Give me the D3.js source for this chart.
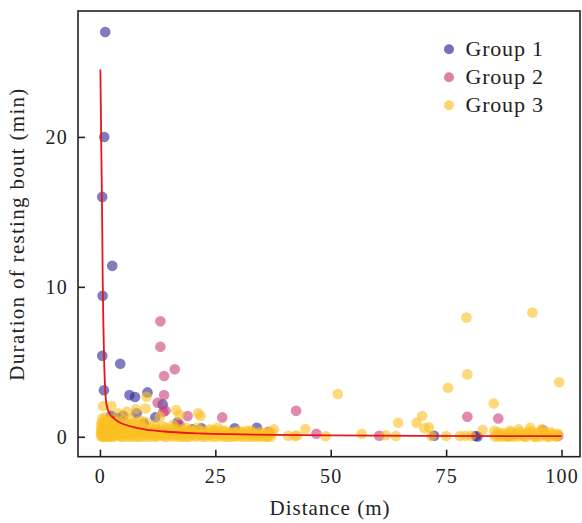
<!DOCTYPE html>
<html>
<head>
<meta charset="utf-8">
<script src="https://cdn.jsdelivr.net/npm/d3@7"></script>
<style>
  body { margin: 0; background: #fff; }
  text { font-family: "Liberation Serif", "Times New Roman", serif; fill: #222; }
</style>
</head>
<body>
<div id="chart"></div>
<script>
// values: [distance (m), duration (min)]
const group1 = [
  [1.15, 27.0], [0.93, 20.0], [0.5, 16.0], [2.66, 11.4], [0.58, 9.4], [0.5, 5.4],
  [4.4, 4.87], [0.87, 3.1], [6.4, 2.78], [7.6, 2.65], [10.3, 2.96], [13.6, 2.16],
  [7.95, 1.56], [16.8, 0.95], [2.4, 1.4], [3.5, 1.25], [5.0, 1.4], [9.5, 0.9],
  [12.0, 1.3], [20.0, 0.5], [22.0, 0.56], [29.2, 0.56], [34.0, 0.6], [72.4, 0.07],
  [81.4, 0.05], [81.8, 0.02]
];
const group2 = [
  [13.1, 7.7], [13.1, 6.0], [16.2, 4.5], [13.9, 4.05], [13.9, 2.78], [12.5, 2.27],
  [14.2, 1.73], [13.7, 1.67], [19.0, 1.38], [17.3, 0.78], [26.5, 1.29], [36.5, 0.33],
  [42.5, 1.73], [46.9, 0.2], [60.5, 0.07], [79.6, 1.33], [86.3, 1.22], [88.4, 0.07],
  [96.0, 0.45], [99.3, 0.07]
];
const group3 = [
  // outliers
  [79.4, 7.96], [93.7, 8.29], [79.6, 4.16], [75.4, 3.27], [99.5, 3.63], [85.3, 2.22],
  [51.5, 2.85], [64.6, 0.93], [68.6, 0.93], [69.8, 1.38], [70.3, 0.56], [71.3, 0.63],
  [82.9, 0.45], [85.4, 0.38], [44.5, 0.51], [40.8, 0.07], [42.2, 0.05], [42.7, 0.08],
  [48.9, 0.03], [56.7, 0.18], [61.9, 0.1], [64.1, 0.05], [71.8, 0.05], [75.0, 0.05],
  [78.0, 0.05], [79.2, 0.07], [80.4, 0.06], [37.7, 0.49], [21.8, 1.38],
  [0.7, 2.05], [2.5, 2.05], [5.8, 1.67], [7.8, 1.83], [9.9, 1.89], [10.1, 2.67],
  [16.5, 1.78], [17.2, 1.45], [21.3, 1.56], [4.0, 1.56], [8.7, 1.1], [13.0, 1.33],
  // dense band near the origin
  [0.2, 0.1], [0.3, 0.5], [0.3, 0.9], [0.4, 0.2], [0.5, 1.2], [0.6, 0.0], [0.7, 0.6],
  [0.8, 0.3], [0.9, 1.0], [1.0, 0.1], [1.1, 0.7], [1.2, 1.3], [1.3, 0.4], [1.4, 0.0],
  [1.5, 0.9], [1.7, 0.2], [1.8, 0.6], [1.9, 1.1], [2.0, 0.0], [2.1, 0.4], [2.3, 0.8],
  [2.5, 0.1], [2.6, 1.2], [2.8, 0.5], [3.0, 0.0], [3.1, 0.9], [3.3, 0.3], [3.6, 0.6],
  [3.8, 0.1], [4.0, 1.0], [4.2, 0.4], [4.5, 0.0], [4.7, 0.7], [5.0, 0.2], [5.2, 1.1],
  [5.5, 0.5], [5.8, 0.0], [6.0, 0.8], [6.3, 0.3], [6.6, 1.2], [6.9, 0.1], [7.2, 0.6],
  [7.5, 0.0], [7.8, 0.9], [8.1, 0.3], [8.4, 0.5], [8.8, 0.0], [9.1, 0.7], [9.5, 0.2],
  [9.9, 1.0], [10.3, 0.4], [10.7, 0.0], [11.0, 0.6], [11.5, 0.2], [11.9, 0.8],
  [12.3, 0.0], [12.8, 0.4], [13.2, 0.1], [13.6, 0.7], [14.1, 0.3], [14.5, 0.0],
  [15.0, 0.5], [15.4, 0.1], [15.9, 0.8], [16.3, 0.3], [16.8, 0.0], [17.2, 0.5],
  [17.7, 0.2], [18.1, 0.0], [18.6, 0.6], [19.0, 0.3], [19.5, 0.0], [20.0, 0.4],
  [20.5, 0.1], [21.1, 0.6], [21.6, 0.2], [22.2, 0.0], [22.7, 0.4], [23.3, 0.1],
  [23.8, 0.5], [24.4, 0.0], [25.0, 0.3], [25.5, 0.6], [26.1, 0.1], [26.7, 0.0],
  [27.2, 0.4], [27.8, 0.2], [28.4, 0.0], [29.0, 0.3], [29.5, 0.1], [30.1, 0.4],
  [30.7, 0.0], [31.3, 0.2], [31.8, 0.4], [32.4, 0.0], [33.0, 0.3], [33.6, 0.1],
  [34.1, 0.0], [34.7, 0.3], [35.3, 0.1], [35.9, 0.0], [36.4, 0.2], [37.0, 0.0], [37.2, 0.3],
  [0.25, 0.3], [0.35, 0.7], [0.45, 0.0], [0.55, 0.4], [0.65, 0.9], [0.75, 0.15],
  [0.85, 0.55], [0.95, 0.25], [1.05, 0.85], [1.15, 0.0], [1.25, 0.5], [1.35, 1.0],
  [1.45, 0.2], [1.6, 0.65], [1.75, 0.0], [1.85, 0.35], [2.0, 0.9], [2.2, 0.15],
  [2.4, 0.55], [2.7, 0.0], [2.9, 0.75], [3.2, 0.15], [3.5, 0.45], [3.7, 0.9],
  [4.1, 0.2], [4.4, 0.6], [4.8, 0.0], [5.1, 0.4], [5.4, 0.85], [5.9, 0.3],
  [6.2, 0.55], [6.5, 0.0], [6.8, 0.4], [7.1, 0.9], [7.4, 0.25], [7.9, 0.45],
  [8.3, 0.0], [8.6, 0.75], [9.0, 0.3], [9.4, 0.55], [9.8, 0.0],
  [10.5, 0.2], [11.2, 0.35], [11.7, 0.0], [12.1, 0.5], [12.6, 0.15], [13.4, 0.45],
  [13.9, 0.0], [14.3, 0.6], [14.8, 0.2], [15.2, 0.35], [15.7, 0.0], [16.1, 0.55],
  [16.6, 0.15], [17.0, 0.3], [17.5, 0.0], [17.9, 0.4], [18.4, 0.15], [18.8, 0.0],
  [19.3, 0.45], [19.8, 0.15], [20.3, 0.3], [20.8, 0.0], [21.4, 0.4], [21.9, 0.1],
  [22.5, 0.25], [23.0, 0.0], [23.6, 0.3], [24.1, 0.15], [24.7, 0.45], [25.3, 0.0],
  [25.8, 0.2], [26.4, 0.4], [27.0, 0.15], [27.5, 0.0], [28.1, 0.3], [28.7, 0.15],
  [29.3, 0.0], [29.8, 0.25], [30.4, 0.1], [31.0, 0.3], [31.6, 0.0], [32.1, 0.2],
  [32.7, 0.4], [33.3, 0.0], [33.9, 0.2], [34.4, 0.1], [35.0, 0.0], [35.6, 0.25],
  [36.2, 0.0], [36.7, 0.1],
  // dense band at the far end
  [85.6, 0.0], [86.2, 0.3], [86.9, 0.1], [87.5, 0.0], [88.1, 0.2], [88.8, 0.4],
  [89.4, 0.0], [90.0, 0.2], [90.7, 0.5], [91.3, 0.1], [91.9, 0.0], [92.6, 0.3],
  [93.2, 0.6], [93.8, 0.1], [94.5, 0.0], [95.1, 0.3], [95.7, 0.5], [96.4, 0.1],
  [97.0, 0.0], [97.6, 0.3], [98.2, 0.1], [98.8, 0.0], [99.2, 0.2],
  [85.9, 0.15], [86.6, 0.0], [87.2, 0.25], [87.8, 0.1], [88.5, 0.0], [89.1, 0.3],
  [89.7, 0.1], [90.4, 0.0], [91.0, 0.3], [91.6, 0.15], [92.3, 0.0], [92.9, 0.2],
  [93.5, 0.35], [94.1, 0.0], [94.8, 0.2], [95.4, 0.0], [96.1, 0.3], [96.7, 0.1],
  [97.3, 0.0], [97.9, 0.2], [98.5, 0.05], [99.0, 0.1]
];
// fitted curve
const fitLine = [
  [0.1, 24.5], [0.35, 18], [0.5, 14], [0.6, 10.5], [0.75, 7.5], [0.9, 5.2], [1.1, 3.4],
  [1.4, 2.2], [2, 1.6], [3, 1.25], [4, 1.0], [5.5, 0.8], [7.5, 0.62], [10, 0.48],
  [14, 0.35], [20, 0.24], [28, 0.17], [38, 0.12], [50, 0.09], [70, 0.06], [100, 0.04]
];
const groupNames = ["Group 1", "Group 2", "Group 3"];
const groupColors = ["#2a2496", "#c93c78", "#fbbf22"];
const xTicks = [0, 25, 50, 75, 100];
const yTicks = [0, 10, 20];

const width = 582, height = 523;
const plotLeft = 78, plotRight = 580, plotTop = 11, plotBottom = 456.7;

const svg = d3
  .select("#chart")
  .append("svg")
  .attr("width", width)
  .attr("height", height);

const x = d3.scaleLinear().domain([-4.75, 104]).range([plotLeft, plotRight]);
const y = d3.scaleLinear().domain([-1.33, 28.4]).range([plotBottom, plotTop]);

// axes, ticks pointing inward
const xAxis = svg
  .append("g")
  .attr("transform", `translate(0,${plotBottom})`)
  .call(d3.axisBottom(x).tickValues(xTicks).tickSize(-7).tickPadding(12.5));
const yAxis = svg
  .append("g")
  .attr("transform", `translate(${plotLeft},0)`)
  .call(d3.axisLeft(y).tickValues(yTicks).tickSize(-7).tickPadding(10));

[xAxis, yAxis].forEach((a) => {
  a.select(".domain").remove();
  a.selectAll("line").attr("stroke", "#222").attr("stroke-width", 1.6);
  a.selectAll("text")
    .style("font-family", "Liberation Serif, serif")
    .style("font-size", "20px")
    .style("letter-spacing", "1.2px")
    .attr("fill", "#222");
});

svg
  .append("rect")
  .attr("x", plotLeft)
  .attr("y", plotTop)
  .attr("width", plotRight - plotLeft)
  .attr("height", plotBottom - plotTop)
  .attr("fill", "none")
  .attr("stroke", "#222")
  .attr("stroke-width", 1.6);

// points
const groups = [group1, group2, group3];
groups.forEach((data, i) => {
  svg
    .append("g")
    .selectAll("circle")
    .data(data)
    .enter()
    .append("circle")
    .attr("cx", (d) => x(d[0]))
    .attr("cy", (d) => y(d[1]))
    .attr("r", 5.3)
    .attr("fill", groupColors[i])
    .attr("fill-opacity", 0.6);
});

// fitted line
const line = d3
  .line()
  .x((d) => x(d[0]))
  .y((d) => y(d[1]))
  .curve(d3.curveMonotoneX);

svg
  .append("path")
  .datum(fitLine)
  .attr("d", line)
  .attr("fill", "none")
  .attr("stroke", "#e8141e")
  .attr("stroke-width", 1.8);

// axis titles
svg
  .append("text")
  .attr("x", 330)
  .attr("y", 515)
  .attr("text-anchor", "middle")
  .style("font-size", "21px")
  .style("letter-spacing", "1px")
  .text("Distance (m)");

svg
  .append("text")
  .attr("transform", "translate(24,234) rotate(-90)")
  .attr("text-anchor", "middle")
  .style("font-size", "21px")
  .style("letter-spacing", "1.3px")
  .text("Duration of resting bout (min)");

// legend
const legend = svg
  .append("g")
  .selectAll("g")
  .data(groupNames)
  .enter()
  .append("g")
  .attr("transform", (d, i) => `translate(449,${49.3 + i * 28})`);

legend
  .append("circle")
  .attr("r", 5)
  .attr("fill", (d, i) => groupColors[i])
  .attr("fill-opacity", 0.65);

legend
  .append("text")
  .attr("x", 16.5)
  .attr("y", 7)
  .style("font-size", "22px")
  .style("letter-spacing", "0.8px")
  .text((d) => d);
</script>
</body>
</html>
